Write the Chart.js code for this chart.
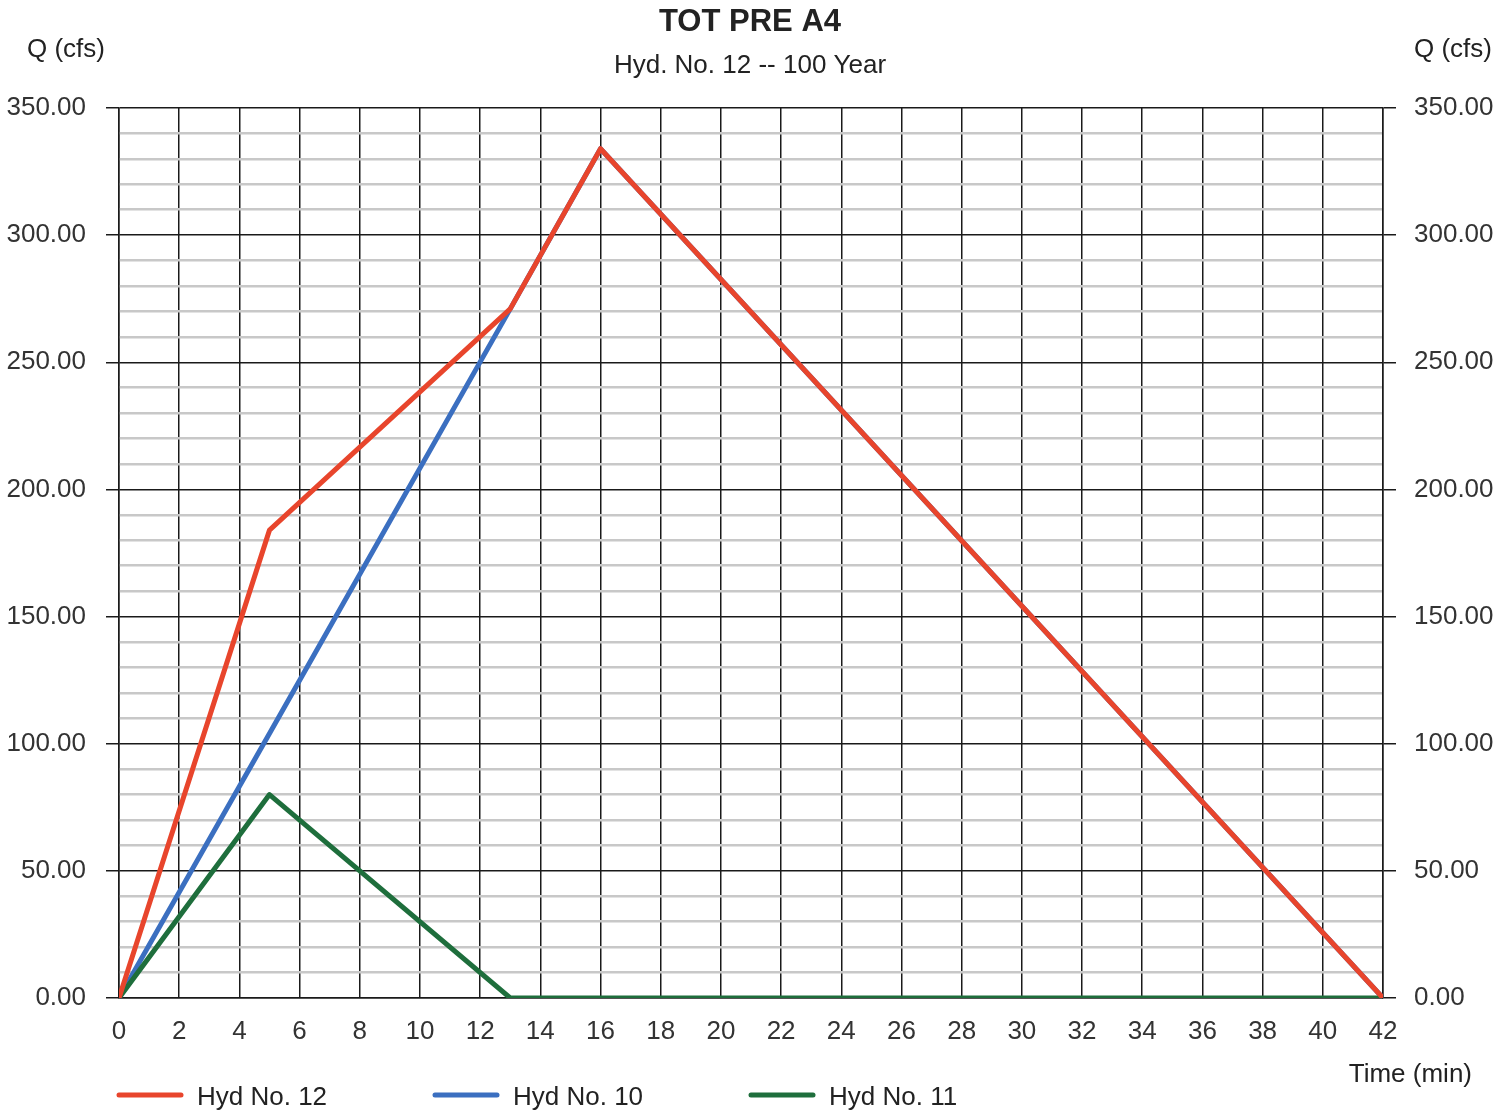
<!DOCTYPE html>
<html lang="en">
<head>
    <meta charset="UTF-8">
    <title>TOT PRE A4</title>
    <script src="https://cdn.jsdelivr.net/npm/chart.js"></script>
    <style>
        html, body { margin: 0; padding: 0; background: #fff; }
        #wrap { width: 1497px; height: 1110px; position: relative; }
    </style>
</head>
<body>
    <div id="wrap"><canvas id="hydChart"></canvas></div>

    <script>
        // Данные гидрографов (время в минутах, расход в cfs)
        const times = [0, 5, 13, 16, 42];
        const hyd12 = [0, 184, 271, 334, 0];
        const hyd10 = [0, 104, 271, 334, 0];
        const hyd11 = [0, 80, 0, 0, 0];

        const seriesNames = ['Hyd No. 12', 'Hyd No. 10', 'Hyd No. 11'];
        const seriesColors = ['#e8452c', '#3b6fc0', '#1e6e3c'];

        const titleText = 'TOT PRE A4';
        const subtitleText = 'Hyd. No. 12 -- 100 Year';
        const yAxisTitle = 'Q (cfs)';
        const xAxisTitle = 'Time (min)';

        const FONT = '"Liberation Sans", Arial, sans-serif';
        const toPoints = arr => arr.map((v, i) => ({ x: times[i], y: v }));

        // подписи, легенда и заголовки рисуются поверх
        const textPlugin = {
            id: 'texts',
            afterDraw(chart) {
                const ctx = chart.ctx;
                ctx.save();
                ctx.fillStyle = '#222';
                ctx.textBaseline = 'alphabetic';

                ctx.font = 'bold 31px ' + FONT;
                ctx.textAlign = 'center';
                ctx.fillText(titleText, 750, 31);

                ctx.font = '26px ' + FONT;
                ctx.fillText(subtitleText, 750, 73);

                ctx.textAlign = 'left';
                ctx.fillText(yAxisTitle, 27, 57);
                ctx.textAlign = 'right';
                ctx.fillText(yAxisTitle, 1492, 57);
                ctx.fillText(xAxisTitle, 1472, 1082);

                // легенда
                const legendX = [117, 433, 749];
                ctx.textAlign = 'left';
                seriesNames.forEach((name, i) => {
                    ctx.strokeStyle = seriesColors[i];
                    ctx.lineWidth = 5;
                    ctx.lineCap = 'round';
                    ctx.beginPath();
                    ctx.moveTo(legendX[i] + 2, 1095);
                    ctx.lineTo(legendX[i] + 64, 1095);
                    ctx.stroke();
                    ctx.fillStyle = '#222';
                    ctx.fillText(name, legendX[i] + 80, 1105);
                });
                ctx.restore();
            }
        };

        const yTicks = {
            stepSize: 10,
            autoSkip: false,
            color: '#333',
            font: { family: FONT, size: 26 },
            callback: v => (v % 50 === 0 ? v.toFixed(2) : '')
        };

        new Chart(document.getElementById('hydChart'), {
            type: 'line',
            data: {
                datasets: [
                    { label: seriesNames[0], data: toPoints(hyd12), borderColor: seriesColors[0], order: 0 },
                    { label: seriesNames[1], data: toPoints(hyd10), borderColor: seriesColors[1], order: 2 },
                    { label: seriesNames[2], data: toPoints(hyd11), borderColor: seriesColors[2], order: 1 }
                ]
            },
            options: {
                responsive: true,
                maintainAspectRatio: false,
                animation: false,
                layout: { padding: { top: 108, left: 0, right: 0, bottom: 0 } },
                elements: {
                    line: { borderWidth: 5, tension: 0, fill: false, borderJoinStyle: 'round' },
                    point: { radius: 0 }
                },
                plugins: {
                    legend: { display: false },
                    tooltip: { enabled: false }
                },
                scales: {
                    x: {
                        type: 'linear',
                        min: 0, max: 42,
                        afterFit: s => { s.height = 112; },
                        ticks: { stepSize: 2, autoSkip: false, color: '#333', padding: 18, maxRotation: 0, font: { family: FONT, size: 26 } },
                        grid: { color: '#1a1a1a', lineWidth: 1.5, drawTicks: false },
                        border: { color: '#1a1a1a', width: 1.5 }
                    },
                    y: {
                        position: 'left',
                        min: 0, max: 350,
                        afterFit: s => { s.width = 119; },
                        ticks: Object.assign({ padding: 20 }, yTicks),
                        grid: {
                            color: c => (c.tick.value % 50 === 0 ? '#1a1a1a' : '#c8c8c8'),
                            lineWidth: c => (c.tick.value % 50 === 0 ? 1.5 : 2.5),
                            tickColor: c => (c.tick.value % 50 === 0 ? '#1a1a1a' : 'rgba(0,0,0,0)'),
                            tickLength: 13
                        },
                        border: { color: '#1a1a1a', width: 1.5 }
                    },
                    y2: {
                        position: 'right',
                        min: 0, max: 350,
                        afterFit: s => { s.width = 114; },
                        ticks: Object.assign({ padding: 18 }, yTicks),
                        grid: {
                            drawOnChartArea: false,
                            tickColor: c => (c.tick.value % 50 === 0 ? '#1a1a1a' : 'rgba(0,0,0,0)'),
                            lineWidth: 1.5,
                            tickLength: 13
                        },
                        border: { color: '#1a1a1a', width: 1.5 }
                    }
                }
            },
            plugins: [textPlugin]
        });
    </script>
</body>
</html>
